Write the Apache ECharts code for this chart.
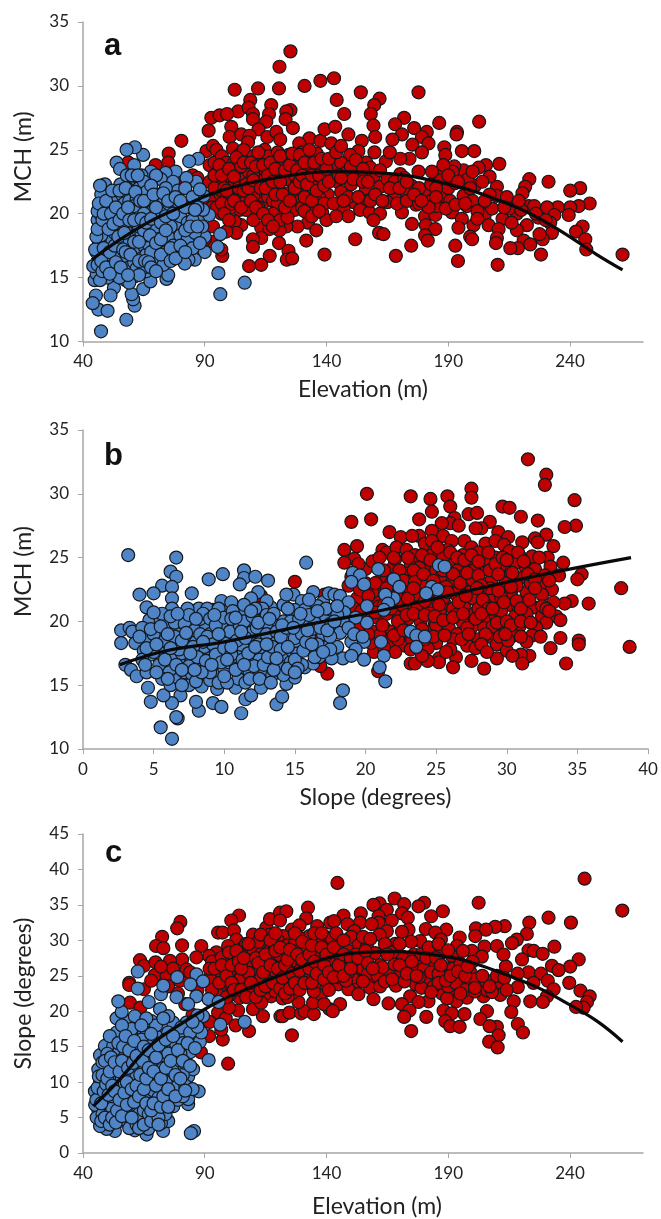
<!DOCTYPE html>
<html>
<head>
<meta charset="utf-8">
<title>MCH, elevation and slope</title>
<script src="https://cdn.jsdelivr.net/npm/echarts@6/dist/echarts.min.js"></script>
<style>
  html, body { margin: 0; padding: 0; background: #fff; }
  #chart { width: 661px; height: 1219px; }
</style>
</head>
<body>
<div id="chart"></div>
<script>
var elevationTicks = [40, 90, 140, 190, 240];
var slopeTicks = [0, 5, 10, 15, 20, 25, 30, 35, 40];
var mchTicks = [10, 15, 20, 25, 30, 35];
var slopeYTicks = [0, 5, 10, 15, 20, 25, 30, 35, 40, 45];

// panel a: elevation (m), MCH (m)
var aRed = [
  [125.2,32.7],[120.7,31.5],[102.3,29.7],[111.9,29.8],[120.5,29.8],[131,30],[137.5,30.4],[108.7,28.9],[103.7,28],[108,28.3],[109.8,27.8],[109.8,27.4],[117.3,28.5],[116.4,27.8],[125.2,28.1],[123.5,28],[123.2,27.4],[126.2,26.7],[115.3,27.2],[112.1,26.6],[92.7,27.5],[96.1,27.7],[99.2,27.8],[91.6,26.5],[100.9,26.8],[100.2,26],[105,26.2],[108.4,26.1],[107.8,25.6],[115.7,26],[119.4,26.4],[121,25.8],[133,25.9],[137.5,25.7],[139.2,26.6],
  [80.4,25.7],[75.2,24.7],[69.8,23.8],[75,24],[58.6,24],[58.6,22.8],[60,22.1],[90.7,24.9],[93.4,25.3],[94.8,25],[101.6,25.1],[114.6,25],[124.5,24.6],[128.8,25.5],[132.9,24.6],[92,23.8],[107.1,24],[118,24.2],[129,24],[139.2,23.7],[113.2,23.3],[103.7,23],[95.5,22.6],[101.6,22.4],[109.8,22.3],[119.4,22],[126.2,22.5],[138,22.7],[113.9,21.5],[122.9,21.1],[132.4,21.6],[135,20.7],[140.5,21.5],[113.9,20.8],[104.3,20.3],[100.2,20.4],[96.8,20],[126.9,20.3],[116.7,19.8],[138.2,20.1],[122.5,20.2],
  [105,19.1],[102.3,19.4],[103,18.5],[98.9,18.6],[93.4,19],[132.4,19.3],[128.1,19],[135.8,18.7],[123.5,19],[120.7,18.7],[113.2,18.9],[116.6,18.8],[113.2,18.1],[109.8,18],[109.8,17.4],[120.5,17.7],[131.7,17.9],[139.2,16.8],[124.4,17.1],[123.7,16.4],[125.9,16.5],[116.7,16.7],[113.2,16],[108.2,15.9],[97.2,16.7],[96.8,17.2],[93.4,17.8],[87.9,18.7],[90,18],[84,17.5],[78,18.5],[72,21.5],[80,22.5],[85,23],[87,22.8],
  [94,24],[97,24.5],[99,24],[96,23.4],[99,23],[102,24],[104,24.6],[106,25],[110,24.5],[112,24.2],[116,24.5],[120,24.8],[122,24.2],[126,24.5],[130,24.8],[134,24.2],[136,24.7],[94,21.5],[97,21.8],[99,21.2],[103,21.9],[106,22.7],[108,23.3],[110,23],[112,22.5],[115,22.8],[117,23.5],[120,23.3],[122,23],[124,22.7],[127,23],[128,22.3],[131,22.7],[133,23.2],[135,22.3],[136,23.5],[100,22],[105,21.5],[107,21],[110,21.4],[112,20.5],[116,21.3],[118,21],[120,20.8],[124,21.6],[127,21.7],[129,21],[130,20.5],[133,20.4],[137,21.3],[139,20.8],[118,20],[121,19.5],[124,19.7],[131,20.2],[134,19.8],[140,19.5],[110,19.5],[107,20.3],
  [143.1,30.6],[154.1,29.5],[144.2,28.9],[161.8,29],[159.6,28.5],[177.8,29.5],[147.3,27.8],[158.2,27.8],[159.3,26.9],[171.9,27.5],[168.2,27],[176,26.7],[186.3,27.1],[202.7,27.2],[193.6,26.4],[193.4,26.2],[181.2,26.4],[171,26.2],[143.6,26.8],[149,26.2],[160,26],[167.1,25.8],[179.2,26],[154.5,25.7],[181.9,25.5],[175.3,25.4],[188.4,25.2],[195.6,24.9],[200.7,24.9],[153.1,24.9],[159.7,24.8],[149.7,24.6],[179.2,24.8],[188.8,24.6],[174.1,24.3],[170.3,24.3],[164.4,24.1],[156.3,24],[211,23.9],[205.5,23.8],[202.5,23.6],[196.3,23.4],[192.5,23.7],[186.7,23.3],[191.8,23.3],[183.3,23.3],[177.8,23.3],[170.3,23.1],[153.1,23.2],[207,22.9],[159.3,22.9],
  [223.3,22.7],[231.2,22.5],[221.6,22.1],[244.2,22],[240.1,21.8],[220.5,21.6],[210,22.1],[201.1,22.2],[195.9,22.4],[174.8,22.2],[162,22.1],[150.1,22.3],[144.5,22.5],[156.2,21.9],[210,21.4],[214.1,21.3],[196.3,21.4],[187.7,21.4],[181.2,21.5],[171.6,21.8],[167.9,21.4],[151.1,20.9],[156.6,21],[248.1,20.8],[243.6,20.6],[240.1,20.5],[235,20.5],[230.6,20.5],[223,20.6],[225.3,20.6],[203.8,20.6],[197.7,20.6],[190.8,21],[176.8,20.7],[153.8,20.3],[147,20.5],[142.9,20.8],[191.5,20.1],[171,20.1],[180.5,19.8],[184.7,19.9],[218.2,20],[233.6,19.9],[239.5,19.9],[157.7,20.1],[162,20],[149,19.8],[144,19.8],[205,19.9],[195.6,19.6],[212.3,19.6],
  [222.3,19.1],[231.9,19.3],[175.1,19.2],[159.3,19.5],[200.4,19.1],[206.6,19.1],[194.2,18.9],[180.8,19.1],[184.7,18.8],[210.7,18.8],[218.2,18.7],[245.2,19],[242.5,18.6],[232.6,18.5],[161.6,18.5],[163.4,18.4],[180.5,18.3],[199,18.2],[199.8,18],[210,18.1],[228.8,18],[227.5,18.4],[246.3,18],[151.8,18],[181.6,17.9],[221,17.9],[223.7,17.6],[192.9,17.5],[174.8,17.5],[209.6,17.7],[218.6,17.3],[215.5,17.3],[246.7,17.2],[261.6,16.8],[228.1,16.8],[168.5,16.7],[194,16.3],[210.3,16],
  [143,23.5],[146,24],[148,23.2],[151,22.7],[155,22.5],[158,23.6],[162,23.4],[165,22.7],[168,22.5],[172,22.8],[178,22],[183,22.3],[187,22.6],[190,22],[193,22.4],[198,22.7],[204,22.5],[207,21.5],[146,21.7],[149,21.3],[153,21.3],[158,21],[165,20.9],[169,20.8],[173,21],[178,20.8],[183,21],[185,20.6],[189,20.4],[193,20.7],[200,21],[202,20.2],[208,20.4],[215,20.4],[220,20.3],[227,19.7],[216,19.3],[202,19.6],[182,20.5]
];
var aRedInner = [
  [92,22.5],[92,21],[93,20.5],[94,23],[94,22],[95,20.5],[96,23.8],[97,23],[97,20.8],[98,22],[98,20],[99,21.8],[100,23.5],[100,19.5],[101,20.8],[102,22.9],[102,21],[103,24.4],[104,22],[105,23.7],[105,20.5],[106,24],[106,21.8],[107,22.3],[108,22],[109,24],[109,21],[110,22.6],[111,23.7],[111,20.5],[112,24.8],[113,22],[114,23.8],[114,20],[115,22],[116,23],[116,19.5],[117,24],[118,22.5],[118,19],[119,23.5],[119,21.5],[121,24.5],[121,22.5],[122,21.5],[123,23.4],[123,20.5],[125,23.8],[125,21],[126,24.7],[127,22],[128,23.4],[129,24.6],[129,22.5],[130,23],[131,24],[131,21.3],[132,22.3],[133,25],[134,23],[134,21],[135,24],[136,21.8],[137,23],[137,20.2],[138,24.3],[139,22.2],[140,23.5],[141,24.3],[141,22.5],[142,25.5],[144,24.8],[145,23],[146,25.3],[146,22.8],[147,21],[150,23.7],[152,24.2],[155,23.5],[157,22.5],[160,21.5],[163,21],[166,22],[166,24.8],[170,22],[173,22.5],[176,21.5],[179,21],[185,22],[188,23.8],[190,23],[194,22.5],[197,20.8],[199,22],[205,21],[185,21.3],[200,23.3],[213,20.5],[219,21],[226,20],[230,19.5]
];
var aBlue = [
  [47.4,10.8],[57.8,11.7],[46.3,12.5],[50.1,12.4],[61.2,12.8],[60.6,13.3],[60,13.7],[45.3,13.6],[44,13],[96.4,13.7],[106.4,14.6],[95.6,15.35],[64.7,14.1],[52.7,14.2],[51.3,13.6],[44.8,14.8],[45.6,15.3],[44.2,15.9],[61.3,15.1],[57.6,14.8],[74.3,14.9],[75,15.2],[67.7,14.7],[96.4,18.4],[95.3,17.4],[90,17],[85.9,16.4],[83.3,16.4],[81.8,16.1],[90,18.2],[87.5,19.6],[91.8,19.9],[89.3,20.3],[89.6,21.4],[86.5,22.5],[87.3,24.3],[83.6,24.1],[82.5,22.8],[78,23.3],[73.9,23.2],[67.9,23.3],[64.7,24.6],[61.3,25.2],[57.9,25],[61,23.8],[53.8,24],[55.2,23.5],[55.4,22.3],[49,22.3],[49.2,20.1],[47.6,20.7],
  [46,16],[47,17],[46.5,17.6],[48,18],[47,19],[46,19.5],[47,20],[48,21],[47.5,21.5],[49,19],[48,16.5],[50,16],[50,17.5],[49,18.5],[50,20.5],[51,21],[51,19.5],[52,18],[52,16.7],[53,15.5],[54,15.5],[54,17],[53,18.5],[54,19.8],[53,21],[54,21.3],[55,20.5],[56,19],[56,18],[55,17],[56,16],[57,15.5],[56,21.5],[57,20.8],[58,19],[58,17.5],[58,16.5],[59,15.8],[59,21],[60,22],[60,20],[60,18.5],[60,17.3],[61,16.2],[62,15.7],[62,17.2],[62,18.4],[62,19.2],[63,20.3],[62,21.1],[63,22],[64,23],[65,22.5],[66,21.7],[64,18.5],[65,17.5],[64,16.5],[66,15.5],[66,16.8],[67,17.6],[67,19],[67,20],[68,21],[69,20.3],[69,18.7],[69,17],[69,15.8],[71,16.5],[71,17.7],[71,18.5],[71,19.7],[71,21.5],[72,22.7],[73,20.8],[73,19],[73,18],[73,16],[75,16.8],[75,18.2],[75,19.3],[75,20.3],[76,21.5],[77,22.5],[77,17.5],[78,19],[78,20.2],[79,16.9],[79,21.8],[80,18.3],[80,19.8],[81,17.2],[81,20.8],[82,22],[83,19.3],[83,18],[84,20.5],[85,17.3],[85,19.5],[85,21.3],[86,18.5],[87,20.5],[88,17.7],[88,21.9],[89,19],
  [52,20.3],[55,18.3],[57,19.8],[59,18],[61,20.6],[63,19],[65,20],[66,18.3],[68,17],[70,19],[72,20],[74,17],[76,19],[65,15.8],[63,15.2],[59,14.6],[55,15],[50,15],[47,14.8],[48,15.5],[70,23],[68,22.2],[58,23],[58,22],[74,22],[82,18.7],[82,20.5],[79,20.9],[47.5,18.3],[45.5,17]
];
var aBlueInner = [
  [45,17.2],[45.5,18.2],[46,18.8],[46,20.2],[46.5,20.8],[47,22.2],[47.5,16.3],[48,19.5],[48.5,20],[48.5,17.3],[49.5,15.8],[49.5,21],[50.5,18.8],[51,15.3],[51,17],[51.5,20],[52,21.8],[52.5,19.2],[53,17.5],[53.5,20.5],[53.5,16.2],[54.5,18.2],[55,19.5],[55,21.8],[55.5,15.8],[56.5,17.2],[56.5,20],[57,18.5],[57.5,17],[57.5,22],[58.5,20.5],[58.5,15.2],[59,19.5],[59.5,16.8],[60,23],[61,17.8],[61,19.5],[61.5,21.7],[62.5,23],[63,16.3],[63,17.8],[63.5,21],[64,19.6],[65,18.7],[65,21],[65.5,16.3],[66,19.3],[67,16.2],[67.5,18.3],[68,19.6],[68,15.8],[69,21.5],[70,17.7],[70,20.5],[70,15.5],[72,16.8],[72,19.3],[72,18],[73,21.6],[74,19.8],[74,18.7],[75,21],[76,17.3],[76,16.3],[77,20],[78,16.5],[78,21.3],[80,17.5],[80,21],[82,17],[84,19],[86,20.3],[87,19]
];
var aLine = [[43.6,16.4],[53.8,17.8],[67.5,19.4],[81.1,20.6],[94.8,21.7],[108.4,22.4],[122.1,22.9],[141.2,23.3],[162,23.2],[175.8,22.9],[196.3,22],[210,21.1],[223.7,20],[237.4,18.5],[251,16.8],[261.6,15.6]];

// panel b: slope (degrees), MCH (m)
var bRed = [
  [31.5,32.7],[32.8,31.5],[32.7,30.7],[20.1,30],[23.2,29.8],[27.5,30.4],[27.5,29.7],[24.6,29.6],[25.8,29.8],[26,29],[24.7,28.6],[29.7,29],[30.2,28.9],[34.8,29.5],[19,27.8],[20.4,28],[23.8,28],[27.3,28.4],[27.9,28.5],[31,28.2],[32.2,27.9],[34.9,27.5],[34.1,27.4],[26.3,28.1],[26,27.7],[26.6,27.5],[28.8,27.8],[28.2,27.3],[27.8,27.3],[25.4,27.7],[21.7,27],[29.4,27],[32.8,26.8],[23.8,26.7],[24.7,27.1],[22.5,26.6],[23.3,26.7],[25.5,26.7],[30.1,26.6],[31.1,26.2],[32,26.5],[32.2,26.2],[33.3,25.9],[26.1,26.3],[27,26.3],[28.5,26.1],[29.2,26.3],[19.4,25.9],[18.5,25.6],[21.2,25.6],[21.5,25.4],[22.2,25.8],[22.9,25.6],[24.2,26.1],[27.5,25.8],[29.8,26],
  [19.2,24.9],[18.5,24.6],[32.9,25],[34,24.6],[31.8,25.1],[31,25],[29.2,25],[24.7,25.2],[23.2,24.6],[27.3,24.6],[26.2,24.7],[20,24.1],[22,24.3],[24.3,24.4],[28.1,24.2],[30.1,24.1],[31.3,24.3],[33.1,24.3],[32,24.1],[35.3,23.7],[33.7,23.6],[35,23.3],[23.2,23.5],[20.9,23.1],[25.9,23],[27.4,23.1],[28.9,23.2],[30,23.4],[32.4,22.7],[38.1,22.6],[33.2,22.5],[32.5,22.1],[31.4,22.3],[30.3,22.3],[29.1,21.9],[23.6,22.1],[22.6,22.5],[26.9,22.6],[28.1,22.3],[34.6,21.6],[34.1,21.4],[35.8,21.4],[33.3,21.5],[31.9,21.1],[30.2,21.3],[28.5,21.3],[27,21.3],[25.6,21.4],[23.7,21.1],[24.5,20.9],[22.2,20.6],[20.6,21.6],[19.4,21.8],[18.8,22.8],[19.6,22.5],
  [31.4,20.6],[32.5,20.4],[33.5,20.4],[33.8,20.1],[32.8,19.9],[30.6,20.4],[27.6,20.3],[28.7,20.1],[25.3,20.6],[23.9,20],[21.4,19.4],[25.9,19.5],[29.8,19.2],[30.9,19.6],[26.9,19.9],[32.1,19.5],[31.8,18.9],[30.5,18.9],[32.4,18.8],[33.8,18.7],[35.1,18.5],[35.1,18.2],[38.7,18],[33.1,17.9],[28,18.6],[29.1,18.6],[26.5,19],[26.2,18.6],[25,18.3],[22.8,18.1],[24.4,17.9],[27.2,18.1],[27.8,17.9],[29.3,18.2],[31.4,18.4],[22.1,17.6],[20.6,17.6],[30,17.7],[31.6,17.3],[31,17.4],[30.4,17.3],[29.3,17.1],[26.4,17.2],[25.2,17.1],[25.2,16.8],[24.4,16.9],[23.2,16.7],[23.5,16.7],[27.5,16.9],[26.2,16.4],[28.4,16.3],[31.1,16.7],[34.2,16.7],[20.9,16.1],[17.3,15.9],[15,23.1],[17.1,22.1],[16.4,18.6],[16.8,16.5],[12.6,22],
  [21,22.7],[21.5,23.5],[22.6,23.7],[23.8,24.2],[25,24],[25.3,23.4],[26.5,24],[26.8,23.5],[27.7,24],[28.6,24.7],[29.5,24.3],[29.9,23],[31,23.4],[20.5,22.3],[21,21.2],[21.9,22.5],[23,22.6],[24,23],[24.9,22.9],[25.5,21.8],[26.3,22.2],[27.4,22.3],[27.6,21.8],[28.8,22.6],[29.6,21.9],[30.7,22.8],[31.7,23],[32.7,23.6],[19.2,21],[20,20.5],[20.8,20.3],[21.5,20.6],[22.8,21],[23,20.2],[24.9,19.8],[24.6,21.6],[26.2,21],[26.4,20.5],[27.8,20.7],[28,21],[29.2,20.5],[29.6,20.8],[30.8,21.2],[32.5,21.2],[19.5,19.5],[20.5,19.2],[21,18.9],[21.9,19.2],[22.5,19.6],[23,19],[24.6,19.2],[25,19.7],[27.5,19.5],[28.4,19.5],[29,19.6],[19.4,18.8],[20.4,18.3],[21.6,18.4],[22.3,18.6],[24.2,18.6],[28.5,19],[23.5,25.2],[25.8,25.6],[26.9,25.2],[28,25.4],[30.2,25.5],[24.7,26.3],[25.5,25],[22.1,24.9],[30.6,24.6]
];
var bRedInner = [
  [19,23.5],[19.5,24.5],[20,23],[20.5,24.7],[21,25],[21.3,24],[21.8,23],[22,25],[22.4,24],[22.7,23.2],[23,25],[23.4,24],[23.5,23.1],[24,25.2],[24.1,23.7],[24.6,24.8],[24.8,23.2],[25.1,25.8],[25.5,24],[25.7,22.7],[26,25.4],[26.2,23.7],[26.5,25],[26.7,23],[27,24.8],[27.2,23.8],[27.5,25.2],[28,24.7],[28,23.6],[28.2,22.8],[28.7,25.4],[28.8,24],[29.2,24.5],[29.4,23.7],[29.7,25],[30,24.8],[30.4,23.8],[30.8,25.4],[31.2,24.7],[31.5,23.7],[32,23.3],[32.3,25],[33,23.2],[20.2,22],[20.7,23],[21.5,22.6],[22.2,22],[22.6,21.3],[23,21.8],[23.4,22.6],[24.2,21.6],[24.6,22.4],[25.2,21.3],[25.8,22.3],[26.6,21.5],[27.1,22],[27.9,22.6],[28.3,21.7],[28.7,21],[29.4,22.4],[29.8,21.5],[30.3,22.7],[30.7,21.6],[31,21],[31.6,21.7],[32,22.6],[32.8,21],[33,20.8],[19.7,20.8],[20.7,20.7],[21.3,21.3],[21.8,21],[22.3,20],[22.9,20.5],[23.4,20.6],[24.2,20.5],[24.9,20.4],[25.5,20.1],[26.2,20.3],[26.9,20.6],[27.2,19.5],[27.8,20.2],[28.2,20.6],[29,21],[29.3,19.9],[30,20],[30.3,19.7],[31,20],[31.7,19.9],[20.2,19],[21.2,19.7],[22,18.9],[22.7,19.3],[23.3,18.6],[24,19.4],[24.8,18.8],[25.6,18.9],[26,17.8],[26.8,18.6],[27.3,19],[28.2,18.2],[29.5,18.8],[30.1,18.5],[31,18.8],[21.3,18],[23.2,17.8],[24,17.3],[25.7,17.6],[28.6,17.6],[29.9,19]
];
var bBlue = [
  [3.2,25.2],[6.6,25],[6.2,23.9],[6.6,23.5],[5.6,22.8],[6.3,22.7],[4,22.1],[5,22.2],[7.7,22.2],[8.9,23.3],[9.9,23.7],[11.4,24],[11.4,23.4],[11.1,22.9],[12.2,23.5],[13.1,23.2],[15.8,24.6],[12.4,22.3],[11.9,21.8],[9.8,21.6],[6.3,21.8],[6.3,21],[4.5,21.1],[2.7,19.3],[3.3,19.5],[3.5,19.2],[2.7,18.3],[3.7,18.3],[4.3,17.7],[3,16.6],[3.4,16.2],[3.8,15.7],[4.5,16],[4.6,14.8],[4.8,13.7],[5.5,11.7],[6.3,10.8],[6.7,12.4],[6.6,12.5],[8.2,13],[8,13.7],[9.2,13.6],[9.8,13.3],[11.2,12.8],[11.5,13.9],[11.9,14.2],[13.7,13.5],[14.1,14.1],[14.4,15.1],[12.6,14.8],[10.8,14.8],[9.5,14.7],[7.5,15],[6.9,14.2],[6.3,13.6],[5.7,14.2],[15,15.6],[15.7,16.4],[16.3,16.7],[15.5,16.6],[5.4,16.6],[6.1,16],[6.9,16.6],
  [4.7,20.1],[5.5,20.1],[7,20.3],[6.9,19.3],[5.3,18.6],[7.4,18.7],[6.2,18.4],[8.6,19.6],[9.2,20.9],[10,20.8],[11.3,20.8],[13.3,21.1],[11.7,20],[13.6,20.1],[14.8,20.5],[14.2,21.3],[14.9,22.1],[14.4,22.1],[17,21.5],[16.2,20.9],[16.8,20.4],[15.5,21.6],[16.3,22.3],[17.4,22.2],
  [4.2,19.5],[4.6,18.7],[5,19],[5.8,19.7],[4.8,17.4],[5.5,17.5],[6.3,17.3],[7,17.5],[7.7,17],[5.6,15.5],[6.2,15],[6.8,15.5],[7.2,16],[7.7,15.9],[8,16.7],[8.2,17.7],[8,18.4],[8.3,20.2],[7.8,20.8],[8.2,21],[8.8,21],[7.6,20],[9,19],[9.5,18.5],[9,17.8],[9.2,17],[8.7,16.3],[8.6,15.5],[8.4,14.9],[9,15.4],[9.7,15.8],[10,16.3],[10.3,16.8],[9.9,17.5],[10.2,18.3],[10,19.8],[10.7,19.7],[10.7,19],[11.3,18],[11,17.2],[11.2,16.3],[11,15.5],[11.5,15.2],[11.8,16],[11.7,16.7],[12,17.6],[12,18.6],[12,19.2],[12.5,20.5],[13,19.8],[12.7,18.6],[12.8,17.8],[12.5,17],[12.9,16.1],[13.4,15.8],[13.3,16.8],[13.5,17.6],[13.6,18.5],[13.9,19.2],[14.2,20],[14.2,18.3],[14.3,17.4],[14,16.1],[14.7,16.8],[14.8,17.7],[14.6,18.9],[15.2,19.3],[15.3,18.2],[15.2,17.5],[15,20.9],[15.6,19.8],[15.7,20.9],[16,18.9],[16,17.8],[16.4,19.9],[17,19],[17.3,18],[16.6,18.2],[17.2,20.4],[17.5,19.8],[18,19.2],[18.4,20],[7.4,21],[10.5,21.5],[11.4,21.3],[13,21.6],[5.6,20.6],[8.6,18],[7.3,18],[6.5,19.9],
  [17.8,22.1],[18.2,22],[19.1,23.8],[19.6,23.6],[19,23.1],[19.9,22.9],[20.9,24.1],[22,23.3],[22.4,22.7],[22,21.8],[21.4,22.1],[21.6,21.4],[21.3,20.9],[20.1,21.2],[18.8,21.5],[18.5,20.7],[17.6,20.9],[25.2,24.4],[25.6,24.3],[24.7,22.7],[25.1,22.5],[24.3,22.2],[20.1,19.9],[19.3,20.3],[18.2,19.1],[19,18.4],[19.9,18.4],[21.1,18.4],[19.3,17.8],[18,18],[21.3,17.3],[23.2,19.2],[23.6,18.9],[24.2,18.8],[23.6,18],[19.9,17],[18.4,17.1],[19,17.3],[17.6,17.1],[21,16.4],[21.4,15.3],[18.4,14.6],[18.2,13.6],[17.5,17.8],[16.7,17.2]
];
var bBlueInner = [
  [4,18.8],[4.2,17],[4.4,16.6],[4.8,19.4],[5,17.6],[5.2,16],[5.5,19.6],[5.8,18.5],[5.8,17],[6,15.5],[6.2,20.4],[6.5,18.8],[6.6,16.6],[6.8,17.8],[7,15],[7,18.5],[7.2,19.8],[7.5,20.5],[7.5,16.5],[7.8,18],[7.9,19.3],[8,15.3],[8.1,17.2],[8.3,19],[8.5,20.6],[8.7,16.9],[8.8,18.8],[9,20.2],[9,16],[9.2,18.2],[9.4,17.4],[9.4,19.7],[9.6,21],[9.6,15.2],[9.8,16.8],[10,17.9],[10,20.3],[10.2,15.2],[10.4,19.2],[10.5,17.4],[10.6,20.8],[10.8,16.2],[10.9,18.5],[11.1,19.7],[11.3,17],[11.4,20],[11.5,18.7],[11.7,17.5],[11.8,15.5],[12,20.4],[12.1,16.5],[12.3,19.5],[12.4,18.2],[12.5,15.5],[12.7,21],[12.8,16.6],[13,20.5],[13,19],[13.1,17.2],[13.3,15.2],[13.4,18],[13.5,20.6],[13.7,19.2],[13.8,16.5],[14,17.8],[14,18.8],[14.2,15.8],[14.4,19.5],[14.5,16.3],[14.7,20],[15,18.7],[15,17],[15.2,16.3],[15.3,20.2],[15.5,19],[15.6,17.7],[15.8,18.4],[16,20.5],[16.2,19.4],[16.4,17.2],[16.6,21.2],[16.8,19.5],[17,17.6],[17.2,21],[17.5,18.8],[18,20.5],[18,21.2],[18.8,19.5],[19.2,19],[19.8,18.8],[16,21.7],[14.5,21],[12.2,21],[10.5,20.2],[8,20.2],
  [4.5,17.9],[5.2,18.2],[6,19],[6.7,20.6],[7,16.2],[7.3,19.1],[7.6,17.5],[8.4,16],[8.5,18.4],[9.3,20.5],[9.6,19],[10,15.7],[10.2,17],[10.5,18],[10.8,20.3],[11.2,19.2],[11.4,16.6],[11.9,20.8],[12.2,18],[12.4,19.9],[13,18.2],[13.2,20.2],[13.5,16.2],[13.7,17.1],[14.1,19.7],[14.5,18],[14.9,19.5],[15,16],[15.4,20.6],[15.9,19.3],[16.2,18.2],[16.6,20.8],[17.3,19.3],[17.8,20],[6.2,17.9],[5,20.7],[7.9,16.2],[9.1,16.6]
];
var bLine = [[2.6,16.6],[5.9,17.7],[10,18.4],[17.5,20.1],[20,20.6],[24.6,21.7],[29.3,22.9],[34,24],[38.8,25]];

// panel c: elevation (m), slope (degrees)
var cRed = [
  [104.1,33.5],[100.9,32.8],[80,32.6],[78.7,31.7],[72.5,30.5],[70,29.2],[73,28.9],[80.7,29.3],[88.6,29.2],[95.5,31.1],[97.3,31.1],[102,31.4],[103,30.1],[99.6,29.2],[94.8,28.3],[91.8,27.8],[86.6,27.6],[80.7,27.3],[75.7,27.1],[63.4,27.2],[65,26.4],[69.8,26.9],[82.5,25.9],[69.5,25.1],[59,24],[59,23.7],[65,23.1],[74.3,25],[79.8,24.3],[59.3,21.2],[63.6,20.5],[95.5,19.8],[98.6,19],[102.7,18],[108.2,17.2],[97.4,16],[96.8,17.4],[91.8,16.5],[83.9,16.5],[88.4,14.2],[99.6,12.6],[125.8,16.6],[113.9,19.3],[109.8,20.3],[103.7,20.1],[121.1,19.3],[122,19.3],[124.8,19.8],[129.6,19.7],[131,20],[134.8,19.6],[128.5,21.3],[134.5,21.2],[137.9,22.4],[134.8,22.8],[139.2,23.9],[141.2,20.3],[139,21],[126.2,22.6],[126.2,23.8],[124.8,25],[122.1,23.3],[117.3,22.1],[114.6,22.4],[113.2,21.2],[104.3,21.9],[112.2,23.1],[107.1,24],[103,24],[98.2,23.3],[95.5,24.5],[103.3,25.4],[114.9,29.3],[109.8,30.8],[115.3,31.8],[116.8,33],[120.9,33.9],[123.5,34.1],[120.9,32.8],[125.8,31.5],[132.4,34.6],[131.7,33.1],[128.9,32.1],[136.2,32],[141.6,32.5],[140.5,30.4],[131.7,29.4],[133,30.6],[128.3,30.6],[122.2,30.6],[120,30],[116.6,30.8],[136.9,29.4],[126.6,28.4],[123.5,28],[116.6,28.5],[109.8,28.7],[102.3,27.6],[98.9,27.1],[108.4,27.2],[106.4,26.1],[95.5,25.7],[132.4,27.6],[137.9,27.3],[131.7,25.9],[137.9,25.4],[116.6,25],[119.4,25.4],[110.5,25],
  [93,27],[97,27.6],[100,28.3],[105,28.8],[107,29.5],[112,29.8],[113,28],[118,29.7],[118,27.5],[121,27.2],[124,29.3],[127,29.5],[130,28.3],[135,28.4],[139,28.7],[110,26.5],[112,25.8],[115,26.6],[118,26.4],[122,26.3],[125,26.7],[128,27],[130,26.6],[134,26.2],[140,26.2],[100,25.6],[105,24.8],[108,25.4],[113,24.6],[120,24],[123,24.5],[127,25.3],[130,24.4],[133,24.7],[136,24.2],[92,24.7],[97,22.5],[100,22.2],[95,22.5],[100,20.5],[106,22.8],[109,22.5],[116,23.5],[119,22.8],[122,21.8],[124,22],[87,23],[84,25.5],[77,26],[75,23.5],[72,26.3],[85,19.5],[88,18.5],[92,18.5],[79,22.5],[82,21],[68,24.3],
  [144.5,38.1],[246,38.7],[261.5,34.2],[168,35.9],[161.8,35.2],[159.3,35],[180.1,35.3],[177.8,34.8],[171.9,35.1],[164.8,34.3],[202.5,35.3],[187.8,34.1],[183,33.4],[171,33.8],[173.4,33.2],[154.1,33.8],[147,33.5],[161.4,33.4],[166.8,32.8],[143.1,32.7],[153.8,32.5],[161.4,32.5],[231.2,33.2],[240.4,32.5],[223.3,32.5],[213.2,32],[209.3,31.9],[201.4,31.7],[205.5,31.5],[189.2,31.5],[180.8,31.6],[173.7,31.5],[148.6,32.3],[158.6,32.3],[151.4,31.3],[164.8,31.3],[171,31.2],[222.3,30.9],[201.1,30.6],[161.8,30.8],[184.7,31.1],[194.7,30.4],[187,30.1],[218.2,30.1],[178.5,29.9],[150.1,30.5],[142.2,30.3],[174.8,29.8],[204.9,29.1],[216.2,29.6],[168.2,29.5],[193.6,29.2],[210,29.2],[153.1,29.3],[233.6,29.1],[223,28.6],[225.1,28.5],[228.8,28.1],[199.7,28.5],[187.4,28.3],[156.6,29.1],[212.7,28],[203.8,27.7],[220.3,27.3],[243.6,27.3],[191.5,27.8],[184,26.5],[171,27.7],[162,26.5],[155.9,27.4],[148.6,27.2],[142.9,27.2],[240.1,26.3],[213.7,26.3],[232.6,26.4],[235.3,25.8],[165.5,25.7],[223,25.5],[228.1,25.3],[218.5,25.3],[143.8,25.9],[189.5,26],[177.8,27.1],[199.3,25.4],[152.2,25.8],
  [159.3,24.7],[170.3,25.1],[181.6,24.5],[188.5,24.7],[195.9,24.9],[206.9,24.2],[203.2,23.8],[210.7,23.6],[230.9,24.3],[239.7,24],[218.6,23.4],[151.1,24.5],[168.5,23.6],[176.7,23.8],[144.9,23.8],[157.9,23.3],[198.4,22.8],[192.9,22.8],[233.3,23.1],[244.3,22.9],[151.8,23],[149,23.1],[153.1,22.4],[248.1,22.1],[230.6,22.1],[211.4,22.3],[204.5,22.1],[197.7,21.9],[187.4,22.5],[174.4,22.1],[159.3,21.7],[165.5,21.1],[181.9,21.4],[177.8,21.3],[193.3,21.4],[189.5,21.8],[171,21],[216.9,21.4],[223.7,21.4],[228.9,21.3],[145.6,21],[174.1,20.1],[142.6,20],[247,21.3],[245.6,20.5],[242.5,20.6],[205.9,20],[196.7,19.6],[188.1,20.1],[215.9,19.9],[181,19.2],[171.9,19.2],[191.5,19.7],[203.2,18.9],[188.8,18.6],[190.8,17.9],[194.7,17.8],[210,17.8],[207,17.9],[218.6,18.2],[220.7,17],[210.7,16.6],[206.8,15.7],[210.3,14.9],[174.8,17.2],
  [145,29],[146,27.5],[149,28.5],[152,28],[155,30.5],[158,30.2],[160,28.2],[164,29.5],[167,28.3],[170,29.5],[176,28],[179,28],[182,29],[186,29.5],[190,28.6],[196,28.5],[146,26],[149,25.5],[155,26],[157,25.3],[161,25],[163,26.2],[168,26.6],[173,26.3],[176,25.7],[180,26],[183,25.5],[186,25.3],[192,26],[195,26.7],[200,27],[145,24.8],[155,24.2],[162,23.5],[164,24.2],[172,24.2],[179,23.3],[184,23.5],[186,24],[190,23.5],[193,24],[199,23.7],[201,24.5],[206,22.9],[197,23],[201,22.8],[208,22.7],[148,24.3],[178,24.8],[183,22.7],[195,22.5]
];
var cRedInner = [
  [92,26],[93,23],[94,26],[96,24],[97,26.5],[99,25],[99,22],[101,26.5],[101,24],[102,23],[103,28.5],[104,27],[105,26],[105,23],[106,27.5],[107,22],[108,29.5],[109,24],[111,27.5],[111,22],[112,26.8],[113,30.8],[113,23],[114,25.5],[115,28],[115,23.5],[117,30],[117,26.5],[118,24],[119,31],[119,28.5],[120,26],[121,23.2],[121,29],[122,24.7],[123,26.5],[123,22.5],[124,27.3],[125,23.2],[125,28.7],[126,25.3],[127,31],[127,24],[128,28],[129,25.7],[129,23],[130,29.8],[130,27.3],[131,24],[133,28],[133,26],[134,29.3],[134,24],[135,31],[135,27],[136,25.3],[138,31],[138,29],[139,26.5],[139,24.5],[140,28],[141,25.5],[141,23],[143,29],[143,24.8],[144,31],[145,26.5],[147,30],[147,28],[147,25],[150,27.5],[150,26],[153,27.5],[156,28.5],[157,26.8],[159,26],[165,28],[167,24.5],[170,26.5],[173,25.3],[175,27],[177,25],[181,27.5],[185,27.5],[187,26.5],[189,24.3],[191,25],[194,25.6],[197,25],[198,26.3],[201,23.3],[204,25],[207,23.5],[210,25],[213,24.7],[214,23],[225,24]
];
var cBlue = [
  [85.6,3.1],[84.3,2.8],[66.1,2.6],[66.8,3.4],[72.9,3.1],[53.1,3.1],[49.7,3.4],[47,3.8],[61.3,3.2],[64,5],[75,4.5],[72,4.2],[73.9,5.5],[77.1,6.6],[83.2,6.9],[83.2,7.6],[87.5,8.7],[77.4,9.2],[72.5,9.1],[66.1,8.5],[64,6.9],[60.6,10.1],[49,6.2],[44.9,8.7],[46.2,6.2],[45.6,5],[55,4.5],[53,5.5],[57.8,5.7],[62,6.6],[53.8,7.1],[51,9],[47,10.2],[46.3,11.8],[47,13.8],[49,15.1],[52.4,15.1],[53.8,13.7],[52.4,12],[57.2,11.6],[53,10.6],[55.7,8.7],[61.3,8.5],[64,9.9],[68.8,10.4],[74.3,10.9],[83.2,10.8],[85.2,11.8],[79.8,12.3],[78,13],[91.6,13.1],[83.9,14.2],[88,15.7],[88.6,17],[76.3,14.9],[72.9,14.4],[73.6,13.1],[63.4,12.5],[58.6,13],[63.4,14.7],[57.9,15.1],[55.5,16.5],[53.8,17],[58.6,18.6],[53.8,19],[55.9,19.9],[54.5,21.4],[61.3,19.3],[63.4,17.4],[66.1,17.3],[68.1,18.6],[67.8,15.8],[71.6,20.3],[72.9,17.8],[77,18.4],[79.8,16.5],[67,21.3],[72,22.4],[73,23.6],[62.5,23.2],[62.5,25.6],[78.7,24.8],[86.6,25.2],[89.3,24.2],[84.1,23.8],[78.4,22],[86.6,22.1],[83.2,21],[91.6,21.7],[95.7,21.3],[96.4,18.1],[106.4,18.5],[89.3,19.3],[82.5,18.4],[87,19.4],[80.4,17.7],[70.2,12.3],
  [45,6.8],[46,7.5],[47,8.5],[48,9.5],[49,8],[48,5.5],[50,4.5],[50,7],[51,5.5],[52,6.3],[52,8],[49,11],[50,12.5],[50,14],[48,12.8],[54,9.5],[54,12],[55,14.5],[56,10.5],[56,6.5],[57,7.7],[57,9.8],[58,4.5],[59,3.5],[59,7],[59,8.5],[59,11],[60,14],[60,16.5],[61,12],[62,11],[62,4],[63,5.5],[63,3.5],[65,4],[65,6],[65,11.5],[66,13.5],[67,10],[67,7.5],[67,5.5],[68,4.5],[68,12],[69,14.5],[69,8.8],[70,6.5],[70,16.5],[71,11],[71,7.8],[71,5],[72,15.5],[73,12],[74,10],[74,7.5],[75,17],[75,19.3],[75,14],[76,8],[77,11.5],[78,15.5],[79,9.5],[79,7.5],[80,14],[81,8],[81,11],[81,15.5],[82,12.7],[82,9.5],[84,17],[85,9],[70,18],[66,19],[60,17.5],[64,16],[56,18],[57,13.5],[51,16.5]
];
var cBlueInner = [
  [45.5,7.5],[46,9.2],[46.5,10.8],[47.5,7],[47.5,4.5],[48,11],[48.5,8.7],[49,13],[49,5],[49.5,9.7],[50,10.5],[50.5,8.2],[51,11.5],[51,4],[51.5,13.5],[52,9.5],[52,5],[53,8.7],[53,12.8],[53.5,4.3],[54,6],[54.5,15.5],[55,11.5],[55,7.5],[56,13],[56,5.2],[56.5,15],[57,8.5],[57.5,16.5],[58,10],[58,6.8],[58.5,12],[59,14.5],[60,9],[60,5],[60.5,12.7],[61,15.8],[61,7.2],[62,13.7],[62,9.5],[63,8],[63.5,11],[64,18],[64.5,13],[65,9],[65,15],[66,7],[66,10.5],[67,12],[67,14.5],[68,6],[68,16.8],[69,11.5],[69,7],[70,9.5],[70,13.5],[71,15.2],[71,4],[72,10.5],[72,6.5],[73,8],[73,19],[74,16],[74,12],[75,6.5],[75,9],[76,13],[77,16.5],[78,11],[78,8],[79,14.5],[80,10.5],[81,13],[82,8.8],[83,15.5],[84,12.3],[86,14.8],[87,17.8],[85,18.5]
];
var cLine = [[44.2,6.6],[53.8,9.9],[67.5,15.1],[81.1,18.4],[94.8,21.2],[108.4,23.3],[122.1,25.2],[141.2,27.6],[155.2,28.3],[168.9,28.4],[182.6,28],[196.3,27.2],[212.7,25.3],[226.4,23.4],[237.4,21.4],[251.1,18.6],[261.6,15.7]];

function xAxis(index, name, min, max, ticks, gap, shift) {
  return {
    gridIndex: index,
    type: 'value',
    min: min,
    max: max,
    name: name,
    nameLocation: 'middle',
    nameGap: gap,
    nameTextStyle: { color: '#222', fontSize: 23, fontFamily: 'Lato', padding: [0, 0, 0, shift] },
    axisLine: { lineStyle: { color: '#a6a6a6', width: 1.5 } },
    axisTick: { length: 5, customValues: ticks, lineStyle: { color: '#a6a6a6', width: 1 } },
    axisLabel: { customValues: ticks, color: '#222', fontSize: 17, fontFamily: 'Lato', margin: 12 },
    splitLine: { show: false }
  };
}

function yAxis(index, name, min, max, interval, shift) {
  return {
    gridIndex: index,
    type: 'value',
    min: min,
    max: max,
    interval: interval,
    name: name,
    nameLocation: 'middle',
    nameGap: 48,
    nameRotate: 90,
    nameTextStyle: { color: '#222', fontSize: 23, fontFamily: 'Lato', padding: [0, 0, 0, shift] },
    axisLine: { show: true, onZero: false, lineStyle: { color: '#a6a6a6', width: 1.5 } },
    axisTick: { show: true, inside: false, length: 5, lineStyle: { color: '#a6a6a6', width: 1 } },
    axisLabel: { color: '#222', fontSize: 17, fontFamily: 'Lato', margin: 14 },
    splitLine: { show: false }
  };
}

function dots(index, data, color) {
  return {
    type: 'scatter',
    xAxisIndex: index,
    yAxisIndex: index,
    data: data,
    symbolSize: 13,
    silent: true,
    itemStyle: { color: color, opacity: 1, borderColor: '#14181c', borderWidth: 1.2 }
  };
}

function trend(index, data) {
  return {
    type: 'line',
    xAxisIndex: index,
    yAxisIndex: index,
    data: data,
    smooth: 0.4,
    symbol: 'none',
    silent: true,
    z: 5,
    lineStyle: { color: '#0a0a0a', width: 3.2 }
  };
}

var redColor = '#c00000', blueColor = '#4f85c6';

var myChart = echarts.init(document.getElementById('chart'));
myChart.setOption({
  animation: false,
  title: [
    { text: 'a', left: 99, top: 26 },
    { text: 'b', left: 99, top: 436 },
    { text: 'c', left: 100, top: 833 }
  ].map(function (t) {
    t.textStyle = { color: '#111', fontSize: 31, fontWeight: 'bold', fontFamily: 'Liberation Sans' };
    return t;
  }),
  grid: [
    { left: 83, right: 18, top: 22, height: 319.5, outerBoundsMode: 'none' },
    { left: 83, right: 13, top: 430, height: 319, outerBoundsMode: 'none' },
    { left: 83, right: 18, top: 834, height: 319, outerBoundsMode: 'none' }
  ],
  xAxis: [
    xAxis(0, 'Elevation (m)', 40, 270, elevationTicks, 37, 0),
    xAxis(1, 'Slope (degrees)', 0, 40, slopeTicks, 37, 20),
    xAxis(2, 'Elevation (m)', 40, 270, elevationTicks, 42, 28)
  ],
  yAxis: [
    yAxis(0, 'MCH (m)', mchTicks[0], mchTicks[5], 5, 50),
    yAxis(1, 'MCH (m)', mchTicks[0], mchTicks[5], 5, 36),
    yAxis(2, 'Slope (degrees)', slopeYTicks[0], slopeYTicks[9], 5, 0)
  ],
  series: [
    dots(0, aRed.concat(aRedInner), redColor), dots(0, aBlue.concat(aBlueInner), blueColor), trend(0, aLine),
    dots(1, bRed.concat(bRedInner), redColor), dots(1, bBlue.concat(bBlueInner), blueColor), trend(1, bLine),
    dots(2, cRed.concat(cRedInner), redColor), dots(2, cBlue.concat(cBlueInner), blueColor), trend(2, cLine)
  ]
});
</script>
</body>
</html>
